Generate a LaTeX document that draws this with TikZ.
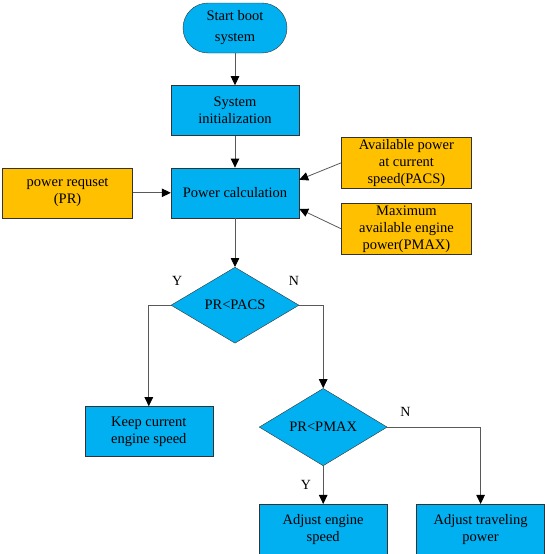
\documentclass[tikz,border=0pt]{standalone}
\usepackage{fontspec}
\setmainfont{Liberation Serif}
\usetikzlibrary{arrows.meta,positioning,shapes.geometric}
\definecolor{procblue}{HTML}{00B0F0}
\definecolor{inorange}{HTML}{FFC000}

\begin{document}
\begin{tikzpicture}[x=1pt,y=-1pt,>={Triangle[length=9pt,width=8.5pt,color=black]},
box/.style={draw=black!80,fill=procblue,align=center,font=\fontsize{14.5}{17}\selectfont,minimum width=128pt,minimum height=50pt,inner sep=2pt},
inbox/.style={box,fill=inorange,minimum width=130pt},
decide/.style={diamond,draw=black!80,fill=procblue,font=\fontsize{14.5}{17}\selectfont,minimum width=128pt,minimum height=76pt,inner sep=0pt},
lbl/.style={font=\fontsize{14}{15}\selectfont,inner sep=0pt},
arrow/.style={->,draw=black!65,line width=0.8pt}]
\useasboundingbox (0,0) rectangle (550,554);
\node[box,rounded corners=25pt,minimum width=104pt] (start) at (235,28) {Start boot\\[4pt]system};
\node[box,below=32pt of start] (init) {System\\initialization};
\node[box,below=32pt of init] (power) {Power calculation};
\node[inbox,left=38pt of power] (pr) {power requset\\(PR)};
\node[inbox,anchor=west] (pacs) at ([xshift=42pt,yshift=30pt]power.east) {Available power\\at current\\speed(PACS)};
\node[inbox,anchor=west] (pmax) at ([xshift=42pt,yshift=-36pt]power.east) {Maximum\\available engine\\power(PMAX)};
\node[decide,below=49pt of power] (pacsdec) {PR<PACS};
\node[box,below=101pt of pacsdec.west,xshift=-22pt] (keep) {Keep current\\engine speed};
\node[decide,below=83pt of pacsdec.east,xshift=24pt] (pmaxdec) {PR<PMAX};
\node[box,below=38pt of pmaxdec] (adjeng) {Adjust engine\\speed};
\node[box,right=29pt of adjeng] (adjtrav) {Adjust traveling\\power};
% branch labels
\node[lbl,anchor=south west] (y1) at ([xshift=1pt,yshift=20pt]pacsdec.west) {Y};
\node[lbl,anchor=south east] (n1) at ([yshift=20pt]pacsdec.east) {N};
\node[lbl,anchor=south] (n2) at ([xshift=18pt,yshift=10pt]pmaxdec.east) {N};
\node[lbl,anchor=east] (y2) at ([xshift=-12pt,yshift=-19pt]pmaxdec.south) {Y};
\draw[arrow] (start)--(init); \draw[arrow] (init)--(power); \draw[arrow] (power)--(pacsdec);
\draw[arrow] (pr)--(power);
\draw[arrow] (pacs.west)--([yshift=13pt]power.east); \draw[arrow] (pmax.west)--([yshift=-16pt]power.east);
\draw[arrow] (pacsdec.west)-|(keep.north); \draw[arrow] (pacsdec.east)-|(pmaxdec.north);
\draw[arrow] (pmaxdec)--(adjeng); \draw[arrow] (pmaxdec.east)-|(adjtrav.north);
\end{tikzpicture}
\end{document}
